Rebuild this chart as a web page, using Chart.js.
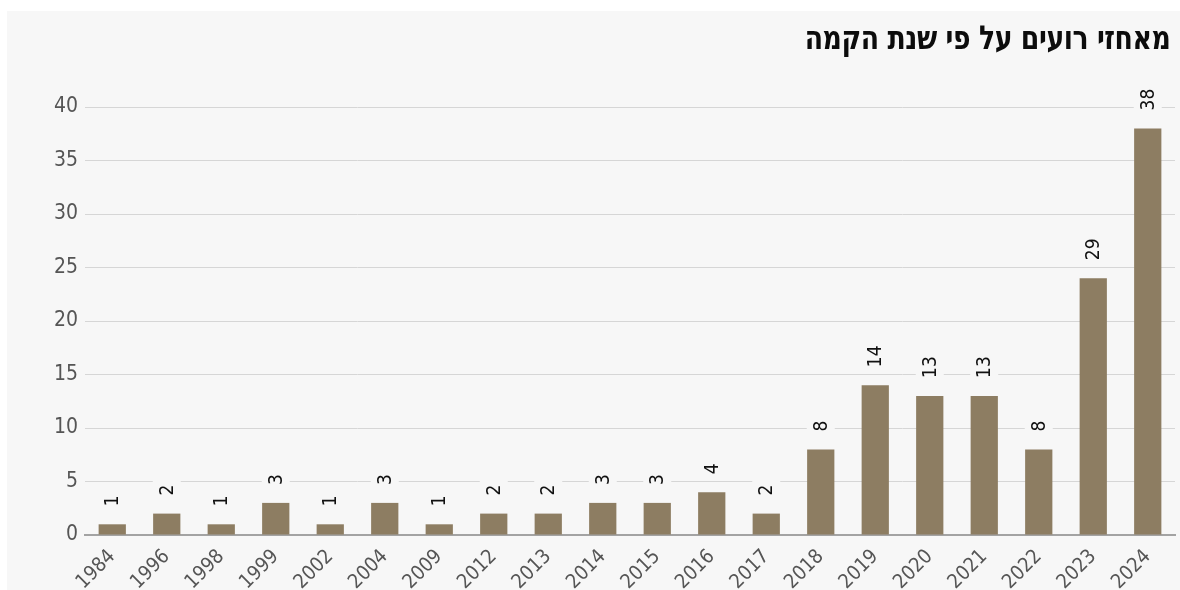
<!DOCTYPE html>
<html lang="he">
<head>
<meta charset="utf-8">
<script src="https://cdn.jsdelivr.net/npm/chart.js@4"></script>
<style>
  html, body { margin: 0; padding: 0; background: #fff; }
  #panel {
    position: absolute; left: 7px; top: 11px; width: 1173px; height: 579px;
    background: #f7f7f7;
  }
  #title {
    position: absolute; right: 10px; top: 7px; direction: rtl;
    font: bold 33px "DejaVu Sans Condensed", "DejaVu Sans", sans-serif;
    color: #0c0c0c; letter-spacing: -0.5px;
    transform: scaleX(0.9); transform-origin: right center;
  }
  #wrap { position: absolute; left: 0; top: 0; width: 1173px; height: 579px; }
</style>
</head>
<body>
<div id="panel">
  <div id="wrap"><canvas id="chart"></canvas></div>
  <div id="title">מאחזי רועים על פי שנת הקמה</div>
</div>
<script>
  const years = ["1984", "1996", "1998", "1999", "2002", "2004", "2009", "2012", "2013", "2014",
    "2015", "2016", "2017", "2018", "2019", "2020", "2021", "2022", "2023", "2024"];
  const outposts = [1, 2, 1, 3, 1, 3, 1, 2, 2, 3, 3, 4, 2, 8, 14, 13, 13, 8, 24, 38];
  // labels as printed on the chart (2023 reads 29 though the bar is lower)
  const printed = ["1", "2", "1", "3", "1", "3", "1", "2", "2", "3", "3", "4", "2", "8", "14", "13", "13", "8", "29", "38"];
  const yTicks = [0, 5, 10, 15, 20, 25, 30, 35, 40];

  const tickFont = "'DejaVu Sans Condensed', sans-serif";

  const barLabels = {
    id: "barLabels",
    afterDatasetsDraw(chart) {
      const ctx = chart.ctx;
      const meta = chart.getDatasetMeta(0);
      ctx.save();
      ctx.font = "19px 'DejaVu Sans Condensed', sans-serif";
      meta.data.forEach((bar, i) => {
        const txt = printed[i];
        const w = ctx.measureText(txt).width;
        const x = bar.x, y = bar.y - 18;
        ctx.save();
        ctx.translate(x, y);
        ctx.rotate(-Math.PI / 2);
        ctx.fillStyle = "#f7f7f7";
        ctx.fillRect(-5, -14, w + 10, 28);
        ctx.fillStyle = "#111";
        ctx.textAlign = "left";
        ctx.textBaseline = "middle";
        ctx.fillText(txt, 0, 1);
        ctx.restore();
      });
      ctx.restore();
    },
  };

  new Chart(document.getElementById("chart"), {
    type: "bar",
    data: {
      labels: years,
      datasets: [{
        data: outposts,
        backgroundColor: "#8d7d62",
        barPercentage: 0.5,
        categoryPercentage: 1,
      }],
    },
    options: {
      responsive: true,
      maintainAspectRatio: false,
      animation: false,
      layout: { padding: { top: 96, right: 5, left: 0, bottom: 0 } },
      plugins: { legend: { display: false }, tooltip: { enabled: false } },
      scales: {
        x: {
          grid: { display: false },
          border: { color: "#a3a3a3", width: 2 },
          ticks: {
            color: "#555",
            font: { family: tickFont, size: 20 },
            maxRotation: 45, minRotation: 45, padding: 2,
          },
          afterFit: (s) => { s.height = 55; },
        },
        y: {
          min: 0, max: 40,
          afterBuildTicks: (s) => { s.ticks = yTicks.map((v) => ({ value: v })); },
          grid: { color: "#d6d6d6", lineWidth: 1, drawTicks: false },
          border: { display: false },
          ticks: {
            color: "#555",
            font: { family: tickFont, size: 21 },
            padding: 7,
          },
          afterFit: (s) => { s.width = 78; },
        },
      },
    },
    plugins: [barLabels],
  });
</script>
</body>
</html>
